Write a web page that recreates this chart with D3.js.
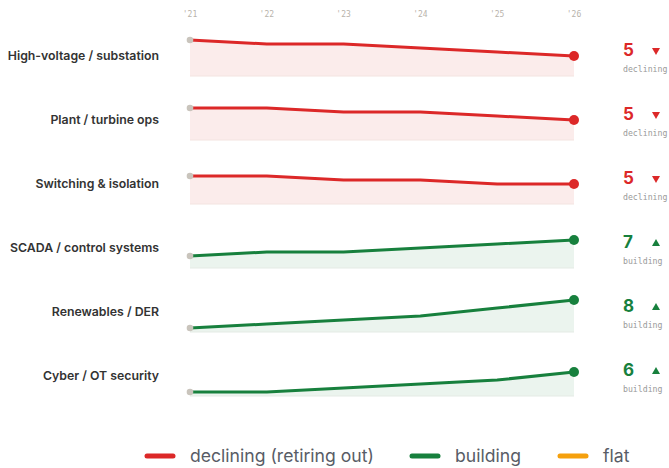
<!DOCTYPE html>
<html>
<head>
<meta charset="utf-8">
<script src="https://cdn.jsdelivr.net/npm/d3@7"></script>
<style>
  html, body { margin: 0; padding: 0; background: #fff; }
  svg { display: block; }
  .row-label { font-family: Inter, "Noto Sans", sans-serif; font-weight: 600; font-size: 12.3px; fill: #333; }
  .tick-label { font-family: "DejaVu Sans Mono", monospace; font-size: 8px; fill: #b8b3ab; }
  .end-value { font-family: Inter, "Noto Sans", sans-serif; font-weight: 700; font-size: 17px; }
  .end-note { font-family: "DejaVu Sans Mono", monospace; font-size: 8.2px; fill: #9a9a9a; }
  .legend-label { font-family: Inter, "Noto Sans", sans-serif; font-size: 17.6px; fill: #585c66; }
</style>
</head>
<body>
<div id="chart"></div>
<script>
const years = [2021, 2022, 2023, 2024, 2025, 2026];
const yearLabels = ["'21", "'22", "'23", "'24", "'25", "'26"];

const skills = [
  "High-voltage / substation",
  "Plant / turbine ops",
  "Switching & isolation",
  "SCADA / control systems",
  "Renewables / DER",
  "Cyber / OT security",
];
const trends = ["declining", "declining", "declining", "building", "building", "building"];

const highVoltage = [9, 8, 8, 7, 6, 5];
const plantOps = [8, 8, 7, 7, 6, 5];
const switching = [7, 7, 6, 6, 5, 5];
const scada = [3, 4, 4, 5, 6, 7];
const renewables = [1, 2, 3, 4, 6, 8];
const cyber = [1, 1, 2, 3, 4, 6];
const seriesValues = [highVoltage, plantOps, switching, scada, renewables, cyber];

const legendItems = [
  ["declining", "declining (retiring out)"],
  ["building", "building"],
  ["flat", "flat"],
];

const colors = { declining: "#dc2828", building: "#17803d", flat: "#f5a00d" };
const fills = { declining: "#fbeceb", building: "#ebf4ee" };
const baseStroke = { declining: "#f3e4e0", building: "#e4ebe5" };

const width = 669;
const height = 468;

const svg = d3.select("#chart")
  .append("svg")
  .attr("width", width)
  .attr("height", height);

const x = d3.scalePoint().domain(years).range([190, 574]);
const rowBase = d3.scaleLinear().domain([0, skills.length - 1]).range([76, 396]);
const yOffset = d3.scaleLinear().domain([0, 10]).range([0, -40]);

svg.append("g")
  .selectAll("text")
  .data(years)
  .join("text")
  .attr("class", "tick-label")
  .attr("x", (d) => x(d))
  .attr("y", 17)
  .attr("text-anchor", "middle")
  .text((d, i) => yearLabels[i]);

skills.forEach((skill, i) => {
  const base = rowBase(i);
  const trend = trends[i];
  const values = seriesValues[i];
  const points = years.map((year, j) => ({ year, value: values[j] }));
  const y = (v) => base + yOffset(v);
  const g = svg.append("g");

  g.append("path")
    .datum(points)
    .attr("fill", fills[trend])
    .attr("d", d3.area().x((d) => x(d.year)).y0(base).y1((d) => y(d.value)));

  g.append("line")
    .attr("x1", x(years[0]))
    .attr("x2", x(years[years.length - 1]))
    .attr("y1", base)
    .attr("y2", base)
    .attr("stroke", baseStroke[trend])
    .attr("stroke-width", 1);

  g.append("path")
    .datum(points)
    .attr("fill", "none")
    .attr("stroke", colors[trend])
    .attr("stroke-width", 3)
    .attr("stroke-linejoin", "round")
    .attr("d", d3.line().x((d) => x(d.year)).y((d) => y(d.value)));

  g.append("circle")
    .attr("cx", x(years[0]))
    .attr("cy", y(values[0]))
    .attr("r", 3.3)
    .attr("fill", "#c9c4bc");

  g.append("circle")
    .attr("cx", x(years[years.length - 1]))
    .attr("cy", y(values[values.length - 1]))
    .attr("r", 5)
    .attr("fill", colors[trend]);

  g.append("text")
    .attr("class", "row-label")
    .attr("x", 159)
    .attr("y", base - 20)
    .attr("dy", "0.35em")
    .attr("text-anchor", "end")
    .text(skill);

  g.append("text")
    .attr("class", "end-value")
    .attr("x", 623)
    .attr("y", base - 20)
    .attr("fill", colors[trend])
    .text(values[values.length - 1]);

  const tx = 656;
  const ty = base - 25;
  const tri = trend === "declining"
    ? `M${tx - 4},${ty - 3}L${tx + 4},${ty - 3}L${tx},${ty + 4}Z`
    : `M${tx - 4},${ty + 3}L${tx + 4},${ty + 3}L${tx},${ty - 4}Z`;
  g.append("path").attr("d", tri).attr("fill", colors[trend]);

  g.append("text")
    .attr("class", "end-note")
    .attr("x", 623)
    .attr("y", base - 4)
    .text(trend);
});

const legendX = [145, 410, 558];
const legend = svg.append("g")
  .selectAll("g")
  .data(legendItems)
  .join("g")
  .attr("transform", (d, i) => `translate(${legendX[i]},456)`);

legend.append("line")
  .attr("x1", 2)
  .attr("x2", 28)
  .attr("stroke", (d) => colors[d[0]])
  .attr("stroke-width", 5)
  .attr("stroke-linecap", "round");

legend.append("text")
  .attr("class", "legend-label")
  .attr("x", 45)
  .attr("dy", "0.35em")
  .text((d) => d[1]);
</script>
</body>
</html>
